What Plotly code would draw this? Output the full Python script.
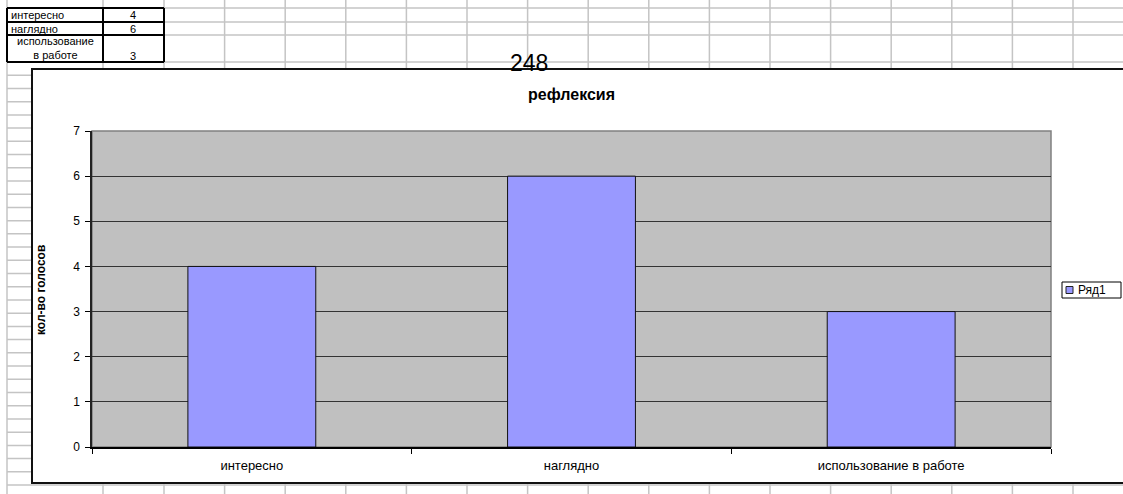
import plotly.graph_objects as go

# ---- data ----
categories = ["интересно", "наглядно", "использование в работе"]
votes = [4, 6, 3]
series_name = "Ряд1"
chart_title = "рефлексия"
y_title = "кол-во голосов"
y_tick_values = [0, 1, 2, 3, 4, 5, 6, 7]
table_labels = ["интересно", "наглядно", "использование<br>в работе"]
table_values = [4, 6, 3]
cell_note = "248"
bar_color = "#9999ff"

# ---- geometry (pixels) ----
W, H = 1123, 494
L, R, T, B = 92, 1051, 131, 447
FONT = "Arial, Liberation Sans, sans-serif"


def px(x):
    return (x - L) / (R - L)


def py(y):
    return (B - y) / (B - T)


shapes = []
GRID = "#c4c4c4"
# spreadsheet column lines
cols = [7, 103, 164] + [164 + 60.6 * k for k in range(1, 17)]
for c in cols:
    shapes.append(dict(type="line", xref="paper", yref="paper", layer="below",
                       x0=px(c), x1=px(c), y0=py(0), y1=py(H),
                       line=dict(color=GRID, width=1.5)))
# spreadsheet row lines
rows = [8, 22, 35, 62] + [62 + 13.22 * k for k in range(1, 33)]
for r in rows:
    shapes.append(dict(type="line", xref="paper", yref="paper", layer="below",
                       x0=px(7), x1=px(W + 5), y0=py(r), y1=py(r),
                       line=dict(color=GRID, width=1.5)))
# table borders
for r in [8, 22, 35, 62]:
    shapes.append(dict(type="line", xref="paper", yref="paper", layer="below",
                       x0=px(7), x1=px(164), y0=py(r), y1=py(r),
                       line=dict(color="black", width=2)))
for c in [7, 103, 164]:
    shapes.append(dict(type="line", xref="paper", yref="paper", layer="below",
                       x0=px(c), x1=px(c), y0=py(8), y1=py(62),
                       line=dict(color="black", width=2)))
# chart frame
shapes.append(dict(type="rect", xref="paper", yref="paper", layer="below",
                   x0=px(32), x1=px(W + 10), y0=py(69), y1=py(483),
                   fillcolor="white", line=dict(color="#111111", width=2)))
# plot area
shapes.append(dict(type="rect", xref="paper", yref="paper", layer="below",
                   x0=0, x1=1, y0=0, y1=1,
                   fillcolor="#c0c0c0", line=dict(color="#808080", width=1.5)))
# legend box and key
shapes.append(dict(type="rect", xref="paper", yref="paper", layer="above",
                   x0=px(1062), x1=px(1121), y0=py(282), y1=py(298),
                   fillcolor="white", line=dict(color="black", width=1)))
shapes.append(dict(type="rect", xref="paper", yref="paper", layer="above",
                   x0=px(1066), x1=px(1073), y0=py(286.5), y1=py(293.5),
                   fillcolor=bar_color, line=dict(color="#222222", width=1)))

annotations = []
TF = dict(family=FONT, size=11, color="black")
# table text
row_centers = [15, 28.5, 48.5]
for i, (lab, val) in enumerate(zip(table_labels, table_values)):
    if i < 2:
        annotations.append(dict(text=lab, xref="paper", yref="paper",
                                x=px(9), y=py(row_centers[i]), xanchor="left", yanchor="middle",
                                showarrow=False, font=TF))
        annotations.append(dict(text=str(val), xref="paper", yref="paper",
                                x=px(133), y=py(row_centers[i]), xanchor="center", yanchor="middle",
                                showarrow=False, font=TF))
    else:
        annotations.append(dict(text=lab, xref="paper", yref="paper",
                                x=px(55), y=py(row_centers[i]), xanchor="center", yanchor="middle",
                                showarrow=False, font=TF))
        annotations.append(dict(text=str(val), xref="paper", yref="paper",
                                x=px(133), y=py(55.5), xanchor="center", yanchor="middle",
                                showarrow=False, font=TF))
# cell value partly hidden behind chart
annotations.append(dict(text=cell_note, xref="paper", yref="paper",
                        x=px(529), y=py(63), xanchor="center", yanchor="middle",
                        showarrow=False, font=dict(family=FONT, size=23, color="black")))
# y-axis title
annotations.append(dict(text=y_title, xref="paper", yref="paper",
                        x=px(41), y=py(290), xanchor="center", yanchor="middle", textangle=-90,
                        showarrow=False, font=dict(family=FONT, size=12, color="black", weight="bold")))
# legend text
annotations.append(dict(text=series_name, xref="paper", yref="paper",
                        x=px(1076), y=py(290), xanchor="left", yanchor="middle",
                        showarrow=False, font=dict(family=FONT, size=12, color="black")))

fig = go.Figure()
fig.add_trace(go.Bar(
    x=categories, y=votes, name=series_name,
    marker=dict(color=bar_color, line=dict(color="#111111", width=1)),
    showlegend=False,
))

fig.update_layout(
    width=W, height=H,
    margin=dict(l=L, r=W - R, t=T, b=H - B, autoexpand=False),
    paper_bgcolor="white", plot_bgcolor="#c0c0c0",
    font=dict(family=FONT, size=11, color="black"),
    bargap=0.6,
    title=dict(text=chart_title, x=0.5, xref="paper", xanchor="center",
               y=1 - 94 / H, yref="container", yanchor="middle",
               font=dict(family=FONT, size=16, color="black", weight="bold")),
    xaxis=dict(type="category", showgrid=False, showline=True, linecolor="black", linewidth=1.5,
               ticks="outside", tickson="boundaries", ticklen=5, tickcolor="black",
               ticklabelstandoff=6,
               tickfont=dict(family=FONT, size=13, color="black"), zeroline=False),
    yaxis=dict(range=[0, 7], tickvals=y_tick_values, showgrid=True, gridcolor="#333333", gridwidth=1,
               showline=True, linecolor="#222222", linewidth=1.5, ticks="outside", ticklen=5,
               tickcolor="black", ticklabelstandoff=3,
               tickfont=dict(family=FONT, size=12, color="black"),
               zeroline=False),
    showlegend=False,
    shapes=shapes,
    annotations=annotations,
)

fig.write_html("out.html", config={"displayModeBar": False},
               post_script="document.body.style.margin='0';document.body.style.overflow='hidden';")
